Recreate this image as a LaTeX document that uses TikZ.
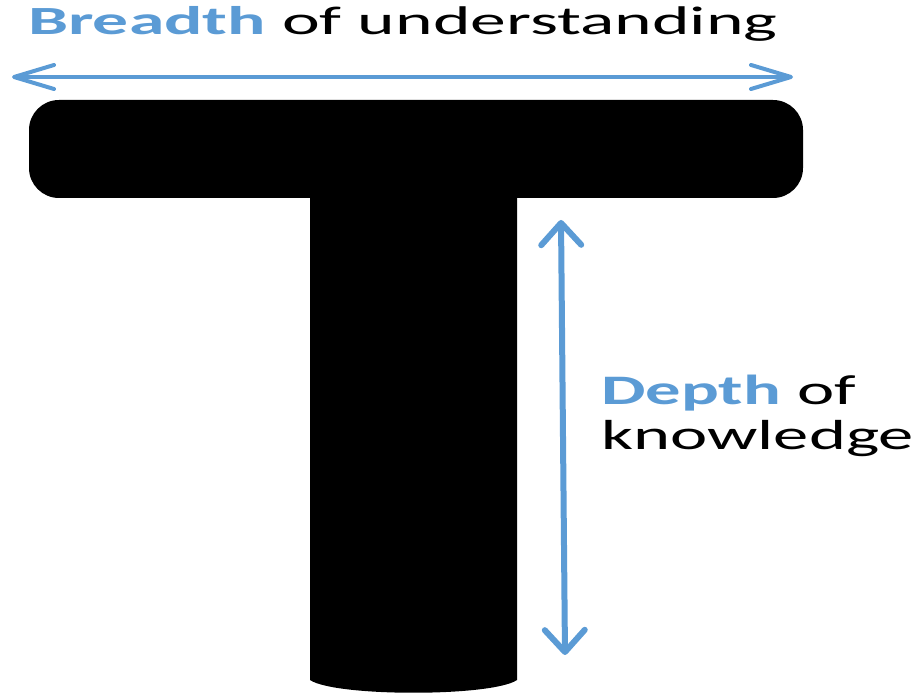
\documentclass[tikz,border=0pt]{standalone}
\usepackage{fontspec}
\setmainfont{Carlito}
\newfontfamily\topfont[FakeStretch=1.79]{Carlito}
\newfontfamily\sidefont[FakeStretch=1.68]{Carlito}
\usepackage{tikz}
\usetikzlibrary{arrows.meta}
\usetikzlibrary{positioning}
\definecolor{tblue}{RGB}{91,155,213}

\begin{document}
\begin{tikzpicture}[x=1pt,y=1pt,
  txt/.style={inner sep=0pt,text=black},
  toptxt/.style={txt,font=\topfont\fontsize{40}{45}\selectfont},
  sidetxt/.style={txt,font=\sidefont\fontsize{42}{45}\selectfont},
  harrow/.style={tblue,line width=4pt,{Straight Barb[length=40pt,width=24pt,round]}-{Straight Barb[length=40pt,width=24pt,round]}},
  varrow/.style={tblue,line width=6pt,{Straight Barb[length=22pt,width=40pt,round]}-{Straight Barb[length=22pt,width=40pt,round]}}]
\useasboundingbox (0,0) rectangle (920,698);
% the T
\fill[rounded corners=30pt] (29,500) rectangle (803,598);
\fill (310,520) -- (310,18) .. controls (335,1) and (492,1) .. (517,18) -- (517,520) -- cycle;
% breadth
\coordinate (bl) at (12,621);
\coordinate (br) at (793,621);
\draw[harrow] (bl) -- (br);
\node[toptxt,anchor=base west] (breadth) at (28,663) {{\color{tblue}\bfseries Breadth} of understanding};
% depth
\coordinate (vt) at (561,478);
\coordinate (vb) at (565,43);
\draw[varrow] (vt) -- (vb);
\node[sidetxt,anchor=base west] (depth) at (601,293) {{\color{tblue}\bfseries Depth} of};
\node[sidetxt,anchor=base west] (know) at ([yshift=-45pt]depth.base west) {knowledge};
\end{tikzpicture}
\end{document}
